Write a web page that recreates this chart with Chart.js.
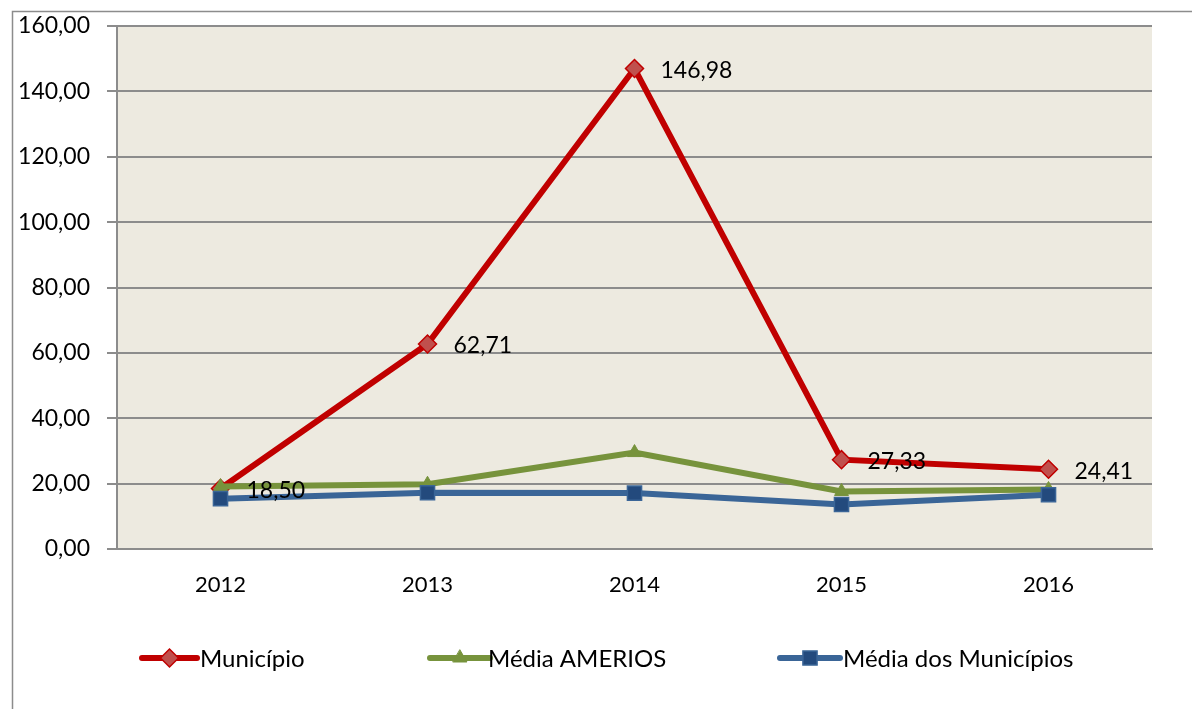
<!DOCTYPE html>
<html>
<head>
<meta charset="utf-8">
<script src="https://cdn.jsdelivr.net/npm/chart.js@4/dist/chart.umd.min.js"></script>
<style>
html,body{margin:0;padding:0;background:#fff;}
#wrap{width:1192px;height:709px;position:relative;}
</style>
</head>
<body>
<div id="wrap"><canvas id="c" width="1192" height="709"></canvas></div>
<script>
const categories = ['2012', '2013', '2014', '2015', '2016'];
const municipio = [18.50, 62.71, 146.98, 27.33, 24.41];
const mediaAmerios = [19.1, 19.8, 29.5, 17.6, 18.2];
const mediaMunicipios = [15.4, 17.2, 17.1, 13.6, 16.6];
const municipioLabels = ['18,50', '62,71', '146,98', '27,33', '24,41'];
const seriesNames = ['Município', 'Média AMERIOS', 'Média dos Municípios'];

const FONT = 'Lato, "Open Sans", sans-serif';
const fmt = v => v.toFixed(2).replace('.', ',');

const legendLayout = [
  {x0: 142, x1: 197, tx: 200},
  {x0: 430, x1: 490, tx: 488},
  {x0: 780, x1: 840, tx: 843}
];

const framePlugin = {
  id: 'frame',
  beforeDraw(chart) {
    const ctx = chart.ctx;
    ctx.save();
    ctx.fillStyle = '#fff';
    ctx.fillRect(0, 0, chart.width, chart.height);
    ctx.strokeStyle = '#8c8c8c';
    ctx.lineWidth = 1.5;
    ctx.beginPath();
    ctx.moveTo(12.5, 709);
    ctx.lineTo(12.5, 11.5);
    ctx.lineTo(1192, 11.5);
    ctx.stroke();
    const a = chart.chartArea;
    ctx.fillStyle = '#EDEAE0';
    ctx.fillRect(a.left, a.top, a.right - a.left, a.bottom - a.top);
    ctx.restore();
  }
};

const labelPlugin = {
  id: 'valueLabels',
  afterDatasetsDraw(chart) {
    const ctx = chart.ctx;
    const meta = chart.getDatasetMeta(0);
    ctx.save();
    ctx.font = '23px ' + FONT;
    ctx.fillStyle = '#000';
    ctx.textAlign = 'left';
    ctx.textBaseline = 'middle';
    meta.data.forEach((pt, i) => {
      ctx.fillText(municipioLabels[i], pt.x + 26, pt.y + 2);
    });
    ctx.restore();
  }
};

const legendPlugin = {
  id: 'customLegend',
  afterDraw(chart) {
    const ctx = chart.ctx;
    const y = 658;
    chart.data.datasets.forEach((ds, i) => {
      const L = legendLayout[i];
      ctx.save();
      ctx.strokeStyle = ds.borderColor;
      ctx.lineWidth = 6;
      ctx.lineCap = 'round';
      ctx.beginPath();
      ctx.moveTo(L.x0, y);
      ctx.lineTo(L.x1, y);
      ctx.stroke();
      ctx.fillStyle = ds.pointBackgroundColor;
      ctx.strokeStyle = ds.pointBorderColor;
      ctx.lineWidth = ds.pointBorderWidth;
      Chart.helpers.drawPoint(ctx, {pointStyle: ds.pointStyle, radius: ds.pointRadius, borderWidth: ds.pointBorderWidth}, (L.x0 + L.x1) / 2, y);
      ctx.font = '24px ' + FONT;
      ctx.fillStyle = '#000';
      ctx.textAlign = 'left';
      ctx.textBaseline = 'middle';
      ctx.fillText(ds.label, L.tx, y + 1);
      ctx.restore();
    });
  }
};

const datasets = [
  {
    label: seriesNames[0], data: municipio,
    borderColor: '#C00000', borderWidth: 6,
    pointStyle: 'rectRot', pointRadius: 9, pointHoverRadius: 9,
    pointBackgroundColor: '#C0504D', pointBorderColor: '#C00000', pointBorderWidth: 1.5,
    order: 3, tension: 0
  },
  {
    label: seriesNames[1], data: mediaAmerios,
    borderColor: '#77933C', borderWidth: 6,
    pointStyle: 'triangle', pointRadius: 8, pointHoverRadius: 8,
    pointBackgroundColor: '#77933C', pointBorderColor: '#77933C', pointBorderWidth: 1,
    order: 2, tension: 0
  },
  {
    label: seriesNames[2], data: mediaMunicipios,
    borderColor: '#3A6597', borderWidth: 6,
    pointStyle: 'rect', pointRadius: 10, pointHoverRadius: 10,
    pointBackgroundColor: '#234A7D', pointBorderColor: '#3A6597', pointBorderWidth: 1.5,
    order: 1, tension: 0
  }
];

new Chart(document.getElementById('c'), {
  type: 'line',
  data: { labels: categories, datasets: datasets },
  plugins: [framePlugin, labelPlugin, legendPlugin],
  options: {
    responsive: false,
    animation: false,
    events: [],
    layout: { padding: { top: 26, right: 40, left: 0, bottom: 0 } },
    plugins: { legend: { display: false }, tooltip: { enabled: false }, title: { display: false } },
    scales: {
      x: {
        offset: true,
        grid: { display: false, drawTicks: false, offset: true },
        border: { color: '#8c8c8c', width: 2 },
        ticks: { color: '#000', font: { family: FONT, size: 22 }, padding: 23, maxRotation: 0 },
        afterFit(s) { s.height = 160; s.paddingLeft = 0; s.paddingRight = 0; }
      },
      y: {
        min: 0, max: 160,
        grid: { color: '#8c8c8c', lineWidth: 2, tickLength: 10, drawTicks: true },
        border: { color: '#8c8c8c', width: 2 },
        ticks: { stepSize: 20, color: '#000', font: { family: FONT, size: 23 }, padding: 17, callback: v => fmt(v) },
        afterFit(s) { s.width = 117; s.paddingTop = 0; s.paddingBottom = 0; }
      }
    }
  }
});
</script>
</body>
</html>
